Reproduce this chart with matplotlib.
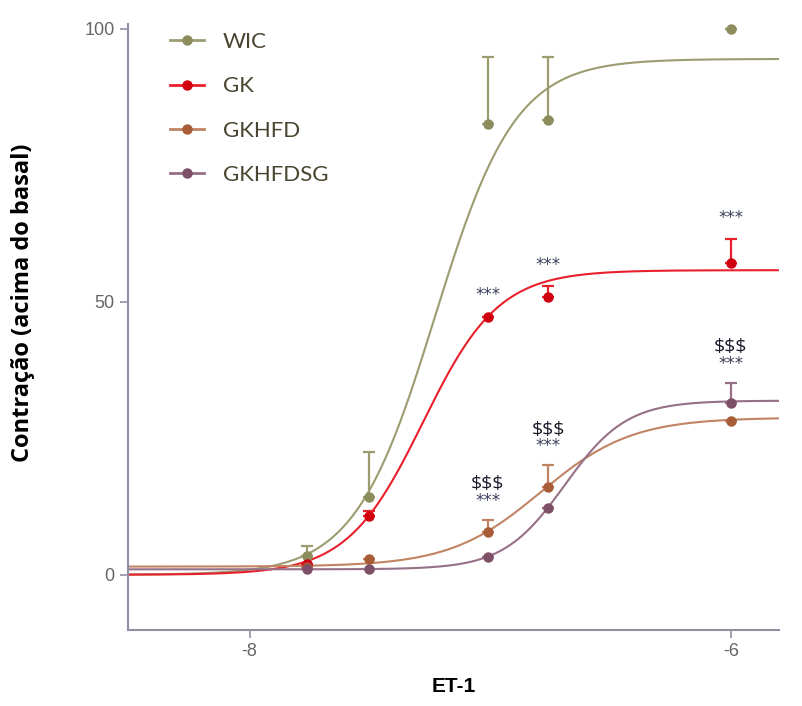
import numpy as np
import matplotlib.pyplot as plt
from matplotlib.lines import Line2D

plt.rcParams['axes.unicode_minus'] = False

# log[ET-1] (M)
log_et1 = [-7.76, -7.505, -7.01, -6.76, -6.0]

# mean contraction and upper error (SEM) per group
wic = [3.5, 14.3, 82.6, 83.3, 100.0]
wic_err = [1.8, 8.2, 12.3, 11.6, 0.0]
gk = [2.0, 10.8, 47.3, 50.8, 57.2]
gk_err = [0.0, 0.8, 0.0, 2.1, 4.3]
gkhfd = [1.5, 2.9, 7.9, 16.1, 28.2]
gkhfd_err = [0.0, 0.0, 2.2, 4.0, 0.0]
gkhfdsg = [1.1, 1.1, 3.3, 12.3, 31.5]
gkhfdsg_err = [0.0, 0.0, 0.0, 0.0, 3.7]

# fitted sigmoid parameters: bottom, top, logEC50, hill
fit_wic = (0.0, 94.5, -7.23, 2.6)
fit_gk = (0.0, 55.8, -7.28, 2.76)
fit_gkhfd = (1.5, 28.8, -6.79, 2.3)
fit_gkhfdsg = (1.0, 31.9, -6.69, 3.4)

# points carrying significance marks
stars_gk = [2, 3, 4]
marks_hfd = [2, 3, 4]

groups = [
    ('WIC', wic, wic_err, fit_wic, '#9c9c70', '#8c8c5c'),
    ('GK', gk, gk_err, fit_gk, '#e8202c', '#d0000f'),
    ('GKHFD', gkhfd, gkhfd_err, fit_gkhfd, '#c08464', '#a85c38'),
    ('GKHFDSG', gkhfdsg, gkhfdsg_err, fit_gkhfdsg, '#967086', '#7e5068'),
]


def sigmoid(x, bottom, top, ec50, hill):
    return bottom + (top - bottom) / (1 + 10 ** ((ec50 - x) * hill))


fig = plt.figure(figsize=(8.03, 7.06), dpi=100)
ax = fig.add_axes([0.159, 0.108, 0.811, 0.858])

xs = np.linspace(-8.507, -5.80, 400)
handles = []
for name, y, err, fit, lc, mc in groups:
    ax.plot(xs, sigmoid(xs, *fit), color=lc, lw=1.5, zorder=2)
    ax.errorbar(log_et1, y, yerr=[np.zeros(len(err)), err], fmt='none',
                ecolor=lc, elinewidth=1.6, capsize=4, capthick=1.6, zorder=3)
    ax.plot(log_et1, y, 'o', color=mc, ms=6.5, zorder=4)
    handles.append(Line2D([0], [0], color=lc, lw=2, marker='o', ms=6.5,
                          markerfacecolor=mc, markeredgecolor=mc))

# stars above GK
for i in stars_gk:
    ax.annotate('***', (log_et1[i], gk[i] + gk_err[i]), xytext=(0, 9),
                textcoords='offset points', ha='center', va='bottom',
                fontsize=12, color='#3a3f5a')

# $$$ / *** above GKHFD / GKHFDSG
for i in marks_hfd:
    top = max(gkhfd[i] + gkhfd_err[i], gkhfdsg[i] + gkhfdsg_err[i])
    ax.annotate('***', (log_et1[i], top), xytext=(0, 7),
                textcoords='offset points', ha='center', va='bottom',
                fontsize=12, color='#3a3f5a')
    ax.annotate('$$$', (log_et1[i], top), xytext=(0, 19),
                textcoords='offset points', ha='center', va='bottom',
                fontsize=14, color='#1a1a2a', family='Open Sans')

ax.set_xlim(-8.507, -5.80)
ax.set_ylim(-10.07, 100.9)
ax.set_xticks([-8, -6])
ax.set_yticks([0, 50, 100])
for s in ['top', 'right']:
    ax.spines[s].set_visible(False)
for s in ['left', 'bottom']:
    ax.spines[s].set_color('#9090a4')
    ax.spines[s].set_linewidth(1.5)
ax.tick_params(colors='#9090a4', labelcolor='#666666', labelsize=13,
               length=6, width=1.2)
for lab in ax.get_xticklabels() + ax.get_yticklabels():
    lab.set_family('Liberation Sans')

ax.set_xlabel('ET-1', fontsize=15, fontweight='bold', family='Liberation Sans',
              labelpad=12)
ax.set_ylabel('Contração (acima do basal)', fontsize=17, fontweight='bold',
              family='Open Sans')
ax.yaxis.set_label_coords(-0.143, 0.54)

leg = ax.legend(handles, [g[0] for g in groups], loc='upper left',
                bbox_to_anchor=(0.035, 1.02), frameon=False, fontsize=16,
                labelspacing=1.1, handlelength=1.5, handletextpad=0.85)
for t in leg.get_texts():
    t.set_color('#4a4530')
    t.set_family('Lato')

fig.savefig('out.png', dpi=100, facecolor='white')
